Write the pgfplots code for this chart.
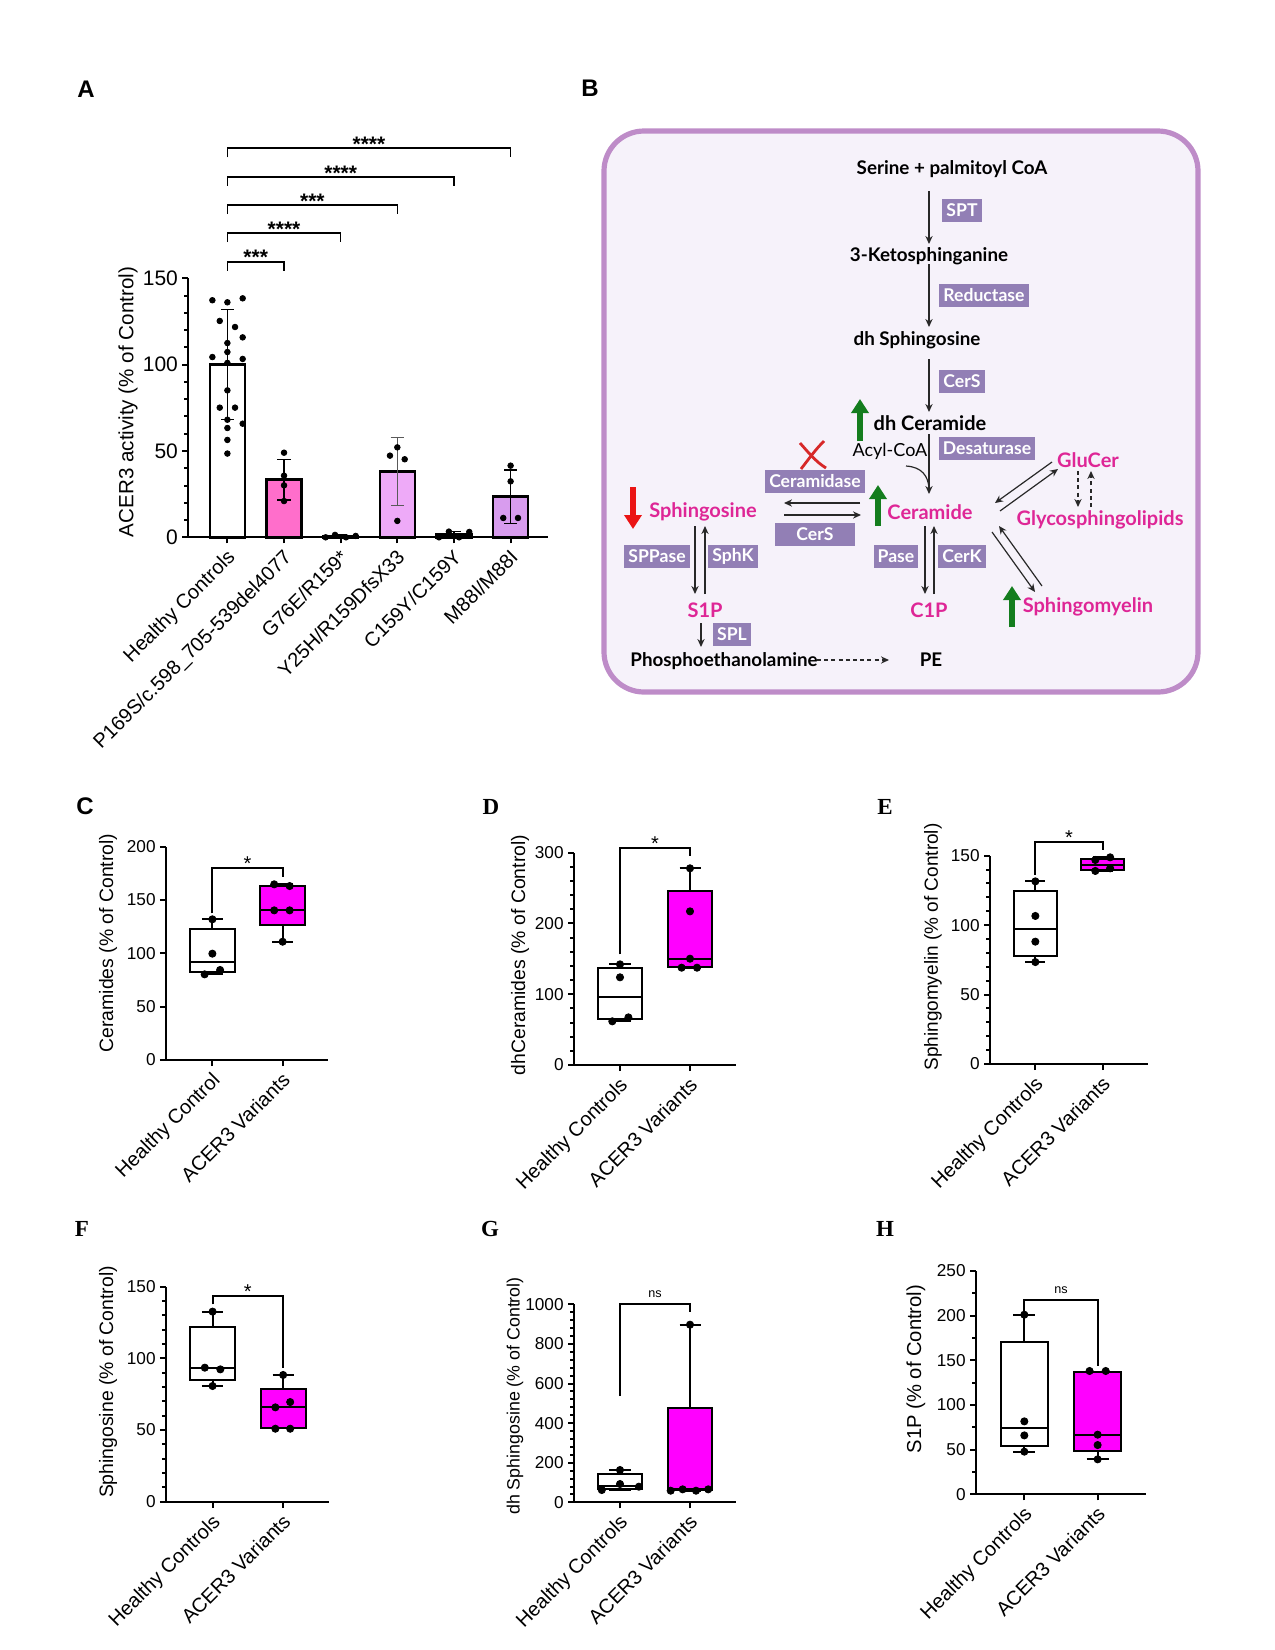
\documentclass[border=0pt]{standalone}
\usepackage{fontspec}
\setmainfont{Liberation Sans}
\newfontfamily\serifb{Liberation Serif}
\newfontfamily\lato{Lato}
\usepackage{pgfplots}
\pgfplotsset{compat=1.18}
\usetikzlibrary{arrows.meta}

\definecolor{barpink}{RGB}{255,110,203}
\definecolor{barlilac}{RGB}{238,170,248}
\definecolor{barviolet}{RGB}{216,156,238}
\definecolor{boxmag}{RGB}{255,0,255}
\definecolor{bordc}{RGB}{190,140,200}
\definecolor{bgc}{RGB}{246,242,250}
\definecolor{tagc}{RGB}{146,127,181}
\definecolor{magc}{RGB}{222,38,150}
\definecolor{greenc}{RGB}{20,125,30}
\definecolor{redc}{RGB}{235,20,20}
\definecolor{xred}{RGB}{215,40,40}
\definecolor{arrc}{RGB}{40,40,40}

\pgfplotsset{
 common/.style={scale only axis, anchor=south west, clip=false,
   axis x line*=bottom, axis y line*=left,
   axis line style={-, line width=1pt, black},
   tick align=outside, tick style={black, line width=1pt},
   major tick length=3pt, minor tick length=2pt,
   /pgf/number format/assume math mode=true,
   /pgf/number format/1000 sep={},
   ymin=0, minor x tick num=0,
 },
 boxax/.style={common, xtick={0,1},
   xticklabels={Healthy Controls, ACER3 Variants},
   xticklabel style={rotate=45, anchor=north east, font=\fontsize{10}{12}\selectfont, inner sep=1pt, xshift=-1.2pt},
   yticklabel style={font=\fontsize{8.6}{10}\selectfont, inner sep=2pt},
 },
 bl/.style={black, line width=1pt, mark=none},
 bx/.style={draw=black, line width=1pt, mark=none},
 dots/.style={only marks, mark=*, mark size=1.8pt, black},
 abar/.style={ybar, bar width=17.5pt, bar shift=0pt, draw=black, line width=1.3pt,
   error bars/y dir=both, error bars/y explicit,
   error bars/error bar style={line width=0.55pt, #1},
   error bars/error mark options={rotate=90, mark size=3.3pt, line width=0.55pt, #1}},
 abar/.default=black,
}
\tikzset{
 star/.style={anchor=base, yshift=-1.3pt, font=\fontsize{10}{12}\selectfont, inner sep=0pt},
 nsl/.style={anchor=base, yshift=3.3pt, font=\fontsize{6.3}{7}\selectfont, inner sep=0pt},
 brk/.style={line width=1pt, black},
}

\begin{document}
\begin{tikzpicture}
\path[use as bounding box] (0,0) rectangle (637.5pt,-825pt);

% ---------------- Panel A ----------------
\begin{axis}[common, at={(94.15pt,-268.65pt)}, width=179.85pt, height=129.5pt,
  xmin=-0.69, xmax=5.66, ymax=150,
  ytick={0,50,100,150}, minor y tick num=4,
  xtick={0,...,5},
  xticklabels={Healthy Controls, P169S/c.598\_705-539del4077, G76E/R159*, Y25H/R159DfsX33, C159Y/C159Y, M88I/M88I},
  xticklabel style={rotate=45, anchor=north east, font=\fontsize{10}{12}\selectfont, inner sep=1pt, xshift=-1.2pt},
  yticklabel style={font=\fontsize{10.5}{12}\selectfont, inner sep=2pt},
]
\addplot[abar, fill=white] coordinates {(0,100) +- (0,31.7)};
\addplot[abar, fill=barpink] coordinates {(1,33.4) +- (0,11.8)};
\addplot[abar, fill=barpink] coordinates {(2,0.8) +- (0,0.7)};
\addplot[abar=black!65, fill=barlilac] coordinates {(3,38.2) +- (0,19.6)};
\addplot[abar, fill=barlilac] coordinates {(4,1.5) +- (0,1.7)};
\addplot[abar, fill=barviolet] coordinates {(5,23.6) +- (0,15.4)};
\addplot[only marks, mark=*, mark size=1.4pt, black] coordinates {
 (-0.265,137.3) (0,136.1) (0.27,138.4) (-0.135,125.3) (0.135,121.8) (0.27,115.8)
 (0,112.5) (0,107.3) (-0.265,104.4) (0.27,103.3) (0,101.0) (0,85.1) (-0.135,75.1)
 (0.135,75.1) (0,68.1) (0.27,65.8) (0,63.3) (0,56.4) (0,48.5)
 (1,49.0) (1,35.7) (1,30.1) (1,21.0)
 (1.735,0) (1.9,1.4) (2.094,0) (2.265,0.8)
 (2.87,47.3) (3,52.1) (3.13,45.2) (3,9.5)
 (3.735,0) (3.91,3.3) (4.09,0) (4.27,3.1)
 (5,41.5) (5,32.4) (4.87,11.2) (5.13,11.2)};
% brackets
\draw[line width=0.8pt] (axis cs:0,154.4) |- (axis cs:1,159.6) -- (axis cs:1,154.4);
\draw[line width=0.8pt] (axis cs:0,170.9) |- (axis cs:2,176.1) -- (axis cs:2,170.9);
\draw[line width=0.8pt] (axis cs:0,187.2) |- (axis cs:3,192.4) -- (axis cs:3,187.2);
\draw[line width=0.8pt] (axis cs:0,203.5) |- (axis cs:4,208.7) -- (axis cs:4,203.5);
\draw[line width=0.8pt] (axis cs:0,220.1) |- (axis cs:5,225.3) -- (axis cs:5,220.1);
\node[star, yshift=-0.3pt, font=\bfseries\fontsize{10.5}{12}\selectfont] at (axis cs:0.5,159.6) {***};
\node[star, yshift=-0.3pt, font=\bfseries\fontsize{10.5}{12}\selectfont] at (axis cs:1,176.1) {****};
\node[star, yshift=-0.3pt, font=\bfseries\fontsize{10.5}{12}\selectfont] at (axis cs:1.5,192.4) {***};
\node[star, yshift=-0.3pt, font=\bfseries\fontsize{10.5}{12}\selectfont] at (axis cs:2,208.7) {****};
\node[star, yshift=-0.3pt, font=\bfseries\fontsize{10.5}{12}\selectfont] at (axis cs:2.5,225.3) {****};
\end{axis}

% ---------------- Panel C ----------------
\begin{axis}[boxax, at={(83pt,-530pt)}, width=81.15pt, height=106.67pt,
  xmin=-0.66, xmax=1.65, ymax=200, ytick={0,50,100,150,200},
  xticklabels={Healthy Control, ACER3 Variants}]
\addplot[bx, fill=white] coordinates {(-0.32,82.2) (0.32,82.2) (0.32,123.1) (-0.32,123.1)} -- cycle;
\addplot[bl] coordinates {(-0.32,92.2) (0.32,92.2)};
\addplot[bl] coordinates {(0,123.1) (0,131.9)};
\addplot[bl] coordinates {(-0.15,131.9) (0.15,131.9)};
\addplot[bl] coordinates {(0,82.2) (0,80.6)};
\addplot[bl] coordinates {(-0.15,80.6) (0.15,80.6)};
\addplot[bx, fill=boxmag] coordinates {(0.68,126.6) (1.32,126.6) (1.32,163.1) (0.68,163.1)} -- cycle;
\addplot[bl] coordinates {(0.68,140.3) (1.32,140.3)};
\addplot[bl] coordinates {(1,163.1) (1,164.7)};
\addplot[bl] coordinates {(0.85,164.7) (1.15,164.7)};
\addplot[bl] coordinates {(1,126.6) (1,110.9)};
\addplot[bl] coordinates {(0.85,110.9) (1.15,110.9)};
\addplot[dots] coordinates {
 (0,131.9) (0,99.7) (-0.11,80.3) (0.11,84.4)
 (0.88,164.7) (1.1,163.1) (0.88,140.3) (1.1,140.3) (1,110.9)};
\draw[brk] (axis cs:0,137.5) |- (axis cs:1,179.7) -- (axis cs:1,171.9);
\node[star] at (axis cs:0.5,179.7) {*};
\end{axis}

% ---------------- Panel D ----------------
\begin{axis}[boxax, at={(287pt,-532.5pt)}, width=81pt, height=106.17pt,
  xmin=-0.657, xmax=1.657, ymax=300, ytick={0,100,200,300}, minor y tick num=4]
\addplot[bx, fill=white] coordinates {(-0.32,65) (0.32,65) (0.32,136.6) (-0.32,136.6)} -- cycle;
\addplot[bl] coordinates {(-0.32,96.1) (0.32,96.1)};
\addplot[bl] coordinates {(0,136.6) (0,142.2)};
\addplot[bl] coordinates {(-0.15,142.2) (0.15,142.2)};
\addplot[bl] coordinates {(0,65) (0,62)};
\addplot[bl] coordinates {(-0.15,62) (0.15,62)};
\addplot[bx, fill=boxmag] coordinates {(0.68,138.5) (1.32,138.5) (1.32,246.3) (0.68,246.3)} -- cycle;
\addplot[bl] coordinates {(0.68,150.2) (1.32,150.2)};
\addplot[bl] coordinates {(1,246.3) (1,277.9)};
\addplot[bl] coordinates {(0.85,277.9) (1.15,277.9)};
\addplot[bl] coordinates {(1,138.5) (1,137.5)};
\addplot[bl] coordinates {(0.85,137.5) (1.15,137.5)};
\addplot[dots] coordinates {
 (0,142.2) (0,123.9) (-0.11,61.7) (0.12,67.3)
 (1,277.9) (1,217.1) (1,150.2) (0.88,137.5) (1.1,137.5)};
\draw[brk] (axis cs:0,156.4) |- (axis cs:1,307.1) -- (axis cs:1,295.3);
\node[star] at (axis cs:0.5,307.1) {*};
\end{axis}

% ---------------- Panel E ----------------
\begin{axis}[boxax, at={(495pt,-532pt)}, width=79.17pt, height=104.17pt,
  xmin=-0.673, xmax=1.677, ymax=150, ytick={0,50,100,150}, minor y tick num=4]
\addplot[bx, fill=white] coordinates {(-0.32,77.8) (0.32,77.8) (0.32,124.8) (-0.32,124.8)} -- cycle;
\addplot[bl] coordinates {(-0.32,97.4) (0.32,97.4)};
\addplot[bl] coordinates {(0,124.8) (0,131.5)};
\addplot[bl] coordinates {(-0.15,131.5) (0.15,131.5)};
\addplot[bl] coordinates {(0,77.8) (0,73.4)};
\addplot[bl] coordinates {(-0.15,73.4) (0.15,73.4)};
\addplot[bx, fill=boxmag] coordinates {(0.68,139.7) (1.32,139.7) (1.32,147.6) (0.68,147.6)} -- cycle;
\addplot[bl] coordinates {(0.68,143.5) (1.32,143.5)};
\addplot[bl] coordinates {(1,147.6) (1,148.8)};
\addplot[bl] coordinates {(0.85,148.8) (1.15,148.8)};
\addplot[bl] coordinates {(1,139.7) (1,139)};
\addplot[bl] coordinates {(0.85,139) (1.15,139)};
\addplot[dots] coordinates {
 (0,131.5) (0,106.6) (0,88.1) (0,73.4)
 (0.89,146.9) (1.11,148.8) (0.89,139) (1.11,140.9)};
\draw[brk] (axis cs:0,136.1) |- (axis cs:1,160.1) -- (axis cs:1,154.1);
\node[star] at (axis cs:0.5,160.1) {*};
\end{axis}

% ---------------- Panel F ----------------
\begin{axis}[boxax, at={(83pt,-750.83pt)}, width=81.5pt, height=107.5pt,
  xmin=-0.66, xmax=1.65, ymax=150, ytick={0,50,100,150}, minor y tick num=4]
\addplot[bx, fill=white] coordinates {(-0.32,84.7) (0.32,84.7) (0.32,122.1) (-0.32,122.1)} -- cycle;
\addplot[bl] coordinates {(-0.32,93.0) (0.32,93.0)};
\addplot[bl] coordinates {(0,122.1) (0,132.6)};
\addplot[bl] coordinates {(-0.15,132.6) (0.15,132.6)};
\addplot[bl] coordinates {(0,84.7) (0,80.7)};
\addplot[bl] coordinates {(-0.15,80.7) (0.15,80.7)};
\addplot[bx, fill=boxmag] coordinates {(0.68,51.6) (1.32,51.6) (1.32,78.4) (0.68,78.4)} -- cycle;
\addplot[bl] coordinates {(0.68,65.8) (1.32,65.8)};
\addplot[bl] coordinates {(1,78.4) (1,88.4)};
\addplot[bl] coordinates {(0.85,88.4) (1.15,88.4)};
\addplot[bl] coordinates {(1,51.6) (1,51.2)};
\addplot[bl] coordinates {(0.85,51.2) (1.15,51.2)};
\addplot[dots] coordinates {
 (0,132.6) (-0.11,93.5) (0.11,92.3) (0,80.7)
 (1,88.4) (0.89,65.8) (1.1,69.5) (0.89,50.9) (1.1,50.9)};
\draw[brk] (axis cs:0,137.7) |- (axis cs:1,143.5) -- (axis cs:1,93.0);
\node[star] at (axis cs:0.5,143.5) {*};
\end{axis}

% ---------------- Panel G ----------------
\begin{axis}[boxax, at={(287pt,-751.17pt)}, width=81pt, height=99pt,
  xmin=-0.657, xmax=1.657, ymax=1000, ytick={0,200,400,600,800,1000}, minor y tick num=4]
\addplot[bx, fill=white] coordinates {(-0.32,65.7) (0.32,65.7) (0.32,141.4) (-0.32,141.4)} -- cycle;
\addplot[bl] coordinates {(-0.32,84.2) (0.32,84.2)};
\addplot[bl] coordinates {(0,141.4) (0,163.3)};
\addplot[bl] coordinates {(-0.15,163.3) (0.15,163.3)};
\addplot[bl] coordinates {(-0.15,62.3) (0.15,62.3)};
\addplot[bx, fill=boxmag] coordinates {(0.68,62.3) (1.32,62.3) (1.32,478.1) (0.68,478.1)} -- cycle;
\addplot[bl] coordinates {(0.68,65.7) (1.32,65.7)};
\addplot[bl] coordinates {(1,478.1) (1,897.3)};
\addplot[bl] coordinates {(0.85,897.3) (1.15,897.3)};
\addplot[bl] coordinates {(0.85,59) (1.15,59)};
\addplot[dots] coordinates {
 (0,163.3) (0,92.6) (-0.26,62.3) (0.27,79.1)
 (1,897.3) (0.724,58.9) (0.895,65.7) (1.086,58.9) (1.26,65.7)};
\draw[brk] (axis cs:0,537) |- (axis cs:1,1000) -- (axis cs:1,959.6);
\node[nsl] at (axis cs:0.5,1000) {ns};
\end{axis}

% ---------------- Panel H ----------------
\begin{axis}[boxax, at={(488pt,-747.17pt)}, width=84.83pt, height=111.67pt,
  xmin=-0.659, xmax=1.655, ymax=250, ytick={0,50,100,150,200,250}, minor y tick num=1]
\addplot[bx, fill=white] coordinates {(-0.32,53.7) (0.32,53.7) (0.32,170.1) (-0.32,170.1)} -- cycle;
\addplot[bl] coordinates {(-0.32,74.3) (0.32,74.3)};
\addplot[bl] coordinates {(0,170.1) (0,201.1)};
\addplot[bl] coordinates {(-0.15,201.1) (0.15,201.1)};
\addplot[bl] coordinates {(0,53.7) (0,47.8)};
\addplot[bl] coordinates {(-0.15,47.8) (0.15,47.8)};
\addplot[bx, fill=boxmag] coordinates {(0.68,48.9) (1.32,48.9) (1.32,137.3) (0.68,137.3)} -- cycle;
\addplot[bl] coordinates {(0.68,66.8) (1.32,66.8)};
\addplot[bl] coordinates {(1,137.3) (1,138.1)};
\addplot[bl] coordinates {(1,48.9) (1,39.2)};
\addplot[bl] coordinates {(0.85,39.2) (1.15,39.2)};
\addplot[dots] coordinates {
 (0,201.1) (0,81.7) (0,66.0) (0,47.8)
 (0.89,138.1) (1.11,138.1) (1,66.8) (1,55.2) (1,39.2)};
\draw[brk] (axis cs:0,203.4) |- (axis cs:1,217.5) -- (axis cs:1,143.7);
\node[nsl] at (axis cs:0.5,217.5) {ns};
\end{axis}

% ---------------- labels and panel B ----------------
\begin{scope}[x=0.5pt,y=-0.5pt]
\node[font=\bfseries\fontsize{12}{14}\selectfont] at (86,89) {A};
\node[font=\bfseries\fontsize{12}{14}\selectfont] at (590,88) {B};
\node[font=\bfseries\fontsize{12}{14}\selectfont] at (85,806) {C};
\node[font=\serifb\bfseries\fontsize{11.5}{14}\selectfont] at (491,807) {D};
\node[font=\serifb\bfseries\fontsize{11.5}{14}\selectfont] at (885,807) {E};
\node[font=\serifb\bfseries\fontsize{11.5}{14}\selectfont] at (82,1229) {F};
\node[font=\serifb\bfseries\fontsize{11.5}{14}\selectfont] at (490,1229) {G};
\node[font=\serifb\bfseries\fontsize{11.5}{14}\selectfont] at (885,1229) {H};
\node[rotate=90, font=\fontsize{10.3}{12}\selectfont] at (128,402) {ACER3 activity (\% of Control)};
\node[rotate=90, font=\fontsize{9.7}{12}\selectfont] at (108,943) {Ceramides (\% of Control)};
\node[rotate=90, font=\fontsize{9.7}{12}\selectfont] at (520,955) {dhCeramides (\% of Control)};
\node[rotate=90, font=\fontsize{9.5}{12}\selectfont] at (933,947) {Sphingomyelin (\% of Control)};
\node[rotate=90, font=\fontsize{9.7}{12}\selectfont] at (108,1382) {Sphingosine (\% of Control)};
\node[rotate=90, font=\fontsize{8.9}{12}\selectfont] at (515,1396) {dh Sphingosine (\% of Control)};
\node[rotate=90, font=\fontsize{10.1}{12}\selectfont] at (916,1369) {S1P (\% of Control)};

\tikzset{
 blk/.style={font=\lato\bfseries\fontsize{9.4}{11}\selectfont, inner sep=0pt},
 mag/.style={font=\lato\bfseries\fontsize{10}{12}\selectfont, text=magc, inner sep=0pt},
 tag/.style={fill=tagc, text=white, font=\lato\bfseries\fontsize{8.8}{10}\selectfont, inner xsep=2pt, inner ysep=0pt, minimum height=11.5pt},
 arr/.style={-{Stealth[length=4pt,width=3.6pt]}, line width=0.6pt, draw=arrc},
 darr/.style={-{Stealth[length=4pt,width=3.6pt]}, line width=0.6pt, draw=arrc, dash pattern=on 2pt off 1.6pt},
 garr/.style={-{Triangle[length=7pt,width=8.5pt]}, line width=2.7pt, draw=greenc},
 rarr/.style={-{Triangle[length=7pt,width=8.5pt]}, line width=2.7pt, draw=redc},
}
\draw[line width=2.6pt, draw=bordc, fill=bgc, rounded corners=20pt] (604,131) rectangle (1198,692);
\node[blk] at (952,169) {Serine + palmitoyl CoA};
\draw[arr] (929,191) -- (929,244);
\node[tag] at (962,210) {SPT};
\node[blk] at (929,256) {3-Ketosphinganine};
\draw[arr] (929,264) -- (929,327);
\node[tag] at (984,295) {Reductase};
\node[blk] at (917,340) {dh Sphingosine};
\draw[arr] (929,359) -- (929,412);
\node[tag] at (962,381) {CerS};
\node[blk, font=\lato\bfseries\fontsize{10}{12}\selectfont] at (930,423) {dh Ceramide};
\draw[garr] (860,441) -- (860,399);
\node[font=\lato\fontsize{9}{11}\selectfont, inner sep=0pt] at (890,451) {Acyl-CoA};
\node[tag] at (987,448) {Desaturase};
\draw[arr] (929,434) -- (929,494);
\draw[line width=0.6pt, draw=arrc] (906,466) .. controls (922,467) and (928,476) .. (929,488);
\draw[xred, line width=1.4pt] (800,443) .. controls (808,452) and (816,462) .. (826,468);
\draw[xred, line width=1.4pt] (824,441) .. controls (815,450) and (808,460) .. (801,469);
\node[tag] at (815,481) {Ceramidase};
\draw[arr] (860,503) -- (784,503);
\draw[arr] (784,515) -- (861,515);
\node[tag, minimum width=40pt] at (815,534) {CerS};
\draw[rarr] (633,487) -- (633,529);
\node[mag] at (703,512) {Sphingosine};
\draw[garr] (878,526) -- (878,485);
\node[mag] at (930,512) {Ceramide};
\node[mag] at (1088,460) {GluCer};
\node[mag] at (1100,520) {Glycosphingolipids};
\draw[darr] (1078,471) -- (1078,507);
\draw[darr] (1091,507) -- (1091,471);
\draw[arr] (1052,462) -- (995,503);
\draw[arr] (1000,511) -- (1058,469);
\draw[arr] (992,532) -- (1035,592);
\draw[arr] (1042,586) -- (999,526);
\node[mag] at (1088,607) {Sphingomyelin};
\draw[garr] (1012,627) -- (1012,586);
\draw[arr] (925,526) -- (925,594);
\draw[arr] (934,594) -- (934,526);
\node[tag] at (896,556) {Pase};
\node[tag] at (962,556) {CerK};
\node[mag] at (929,610) {C1P};
\draw[arr] (695,526) -- (695,594);
\draw[arr] (705,594) -- (705,526);
\node[tag] at (657,556) {SPPase};
\node[tag] at (733,556) {SphK};
\node[mag] at (705,610) {S1P};
\draw[arr] (701,623) -- (701,647);
\node[tag] at (732,634) {SPL};
\node[blk] at (724,661) {Phosphoethanolamine};
\draw[darr] (817,660) -- (889,660);
\node[blk] at (931,660) {PE};
\end{scope}
\end{tikzpicture}
\end{document}
